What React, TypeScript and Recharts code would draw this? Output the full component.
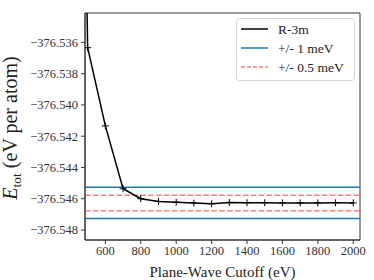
import React from 'react';
import { ComposedChart, Line, XAxis, YAxis, ReferenceLine, ReferenceArea } from 'recharts';

// convergence test: total energy vs plane-wave cutoff
const cutoffs = [400, 500, 600, 700, 800, 900, 1000, 1100, 1200, 1300, 1400, 1500, 1600, 1700, 1800, 1900, 2000];
const energies = [
  -376.47, -376.53634, -376.54134, -376.54536, -376.546, -376.54617, -376.54622, -376.54628,
  -376.54632, -376.54624, -376.54626, -376.54626, -376.54627, -376.54627, -376.54627, -376.54626, -376.54627,
];
const refEnergy = -376.54627;
const tolerances = [0.001, 0.0005];
const xTicks = [600, 800, 1000, 1200, 1400, 1600, 1800, 2000];
const yTicks = [-376.548, -376.546, -376.544, -376.542, -376.54, -376.538, -376.536];
const legendLabels = ['R-3m', '+/- 1 meV', '+/- 0.5 meV'];

const X_MIN = 485;
const X_MAX = 2038;
const Y_MIN = -376.54864;
const Y_MAX = -376.53412;

const FONT = 'Liberation Serif, DejaVu Serif, serif';
const BLUE = '#1f77b4';
const RED = '#ff7f7f';

const data = cutoffs.map((c, i) => ({ cutoff: c, energy: energies[i] }));

const PlusDot = (props: any) => {
  const { cx, cy } = props;
  if (cx == null || cy == null) return null;
  return <path d={`M${cx - 3.5},${cy}h7M${cx},${cy - 3.5}v7`} stroke="#000" strokeWidth={1} fill="none" />;
};

const fmtY = (v: number) => '\u2212' + Math.abs(v).toFixed(3);

const YLabel = () => (
  <text
    x={0}
    y={0}
    transform="translate(17,128) rotate(-90)"
    textAnchor="middle"
    fontFamily={FONT}
    fontSize={20}
    fill="#222"
  >
    <tspan fontStyle="italic">E</tspan>
    <tspan fontSize={13.5} dy={4}>tot</tspan>
    <tspan dy={-4}> (eV per atom)</tspan>
  </text>
);

const LegendBox = () => (
  <svg width={120} height={64} style={{ position: 'absolute', left: 236, top: 18 }}>
    <rect x={0.5} y={0.5} width={118} height={62} rx={3} fill="rgba(255,255,255,0.85)" stroke="#d6d6d6" />
    {legendLabels.map((label, i) => {
      const y = 11 + i * 19;
      const stroke = i === 0 ? '#000' : i === 1 ? BLUE : RED;
      return (
        <g key={label}>
          <line x1={5} x2={32} y1={y} y2={y} stroke={stroke} strokeWidth={1.5} strokeDasharray={i === 2 ? '4 2' : undefined} />
          <text x={42} y={y + 4.5} fontFamily={FONT} fontSize={13.5} fill="#222">
            {label}
          </text>
        </g>
      );
    })}
  </svg>
);

export default function App() {
  return (
    <div style={{ position: 'absolute', left: 0, top: 0, width: 374, height: 280, background: '#fff', fontFamily: FONT }}>
      <ComposedChart width={374} height={280} data={data} margin={{ top: 13, right: 14, bottom: 0, left: 0 }}>
        <XAxis
          dataKey="cutoff"
          type="number"
          domain={[X_MIN, X_MAX]}
          allowDataOverflow
          ticks={xTicks}
          height={40}
          tickSize={4}
          tickMargin={2}
          stroke="#333"
          tick={{ fontFamily: FONT, fontSize: 12.5, fill: '#333' }}
          label={{ value: 'Plane-Wave Cutoff (eV)', position: 'insideBottom', offset: 3, style: { fontFamily: FONT, fontSize: 15, fill: '#222' } }}
        />
        <YAxis
          type="number"
          domain={[Y_MIN, Y_MAX]}
          allowDataOverflow
          ticks={yTicks}
          width={85}
          tickSize={4}
          tickMargin={3}
          stroke="#333"
          tickFormatter={fmtY}
          tick={{ fontFamily: FONT, fontSize: 12.5, fill: '#333' }}
          label={{ content: () => <YLabel /> }}
        />
        <ReferenceArea x1={X_MIN} x2={X_MAX} y1={Y_MIN} y2={Y_MAX} fill="none" fillOpacity={0} stroke="#333" strokeWidth={1} />
        {tolerances.map((t, i) => (
          <ReferenceLine
            key={`u${t}`}
            y={refEnergy + t}
            stroke={i === 0 ? BLUE : RED}
            strokeWidth={1.5}
            strokeDasharray={i === 0 ? undefined : '5.5 2.4'}
          />
        ))}
        {tolerances.map((t, i) => (
          <ReferenceLine
            key={`l${t}`}
            y={refEnergy - t}
            stroke={i === 0 ? BLUE : RED}
            strokeWidth={1.5}
            strokeDasharray={i === 0 ? undefined : '5.5 2.4'}
          />
        ))}
        <Line
          dataKey="energy"
          type="linear"
          stroke="#000"
          strokeWidth={1.5}
          dot={<PlusDot />}
          activeDot={false}
          isAnimationActive={false}
        />
      </ComposedChart>
      <LegendBox />
    </div>
  );
}
